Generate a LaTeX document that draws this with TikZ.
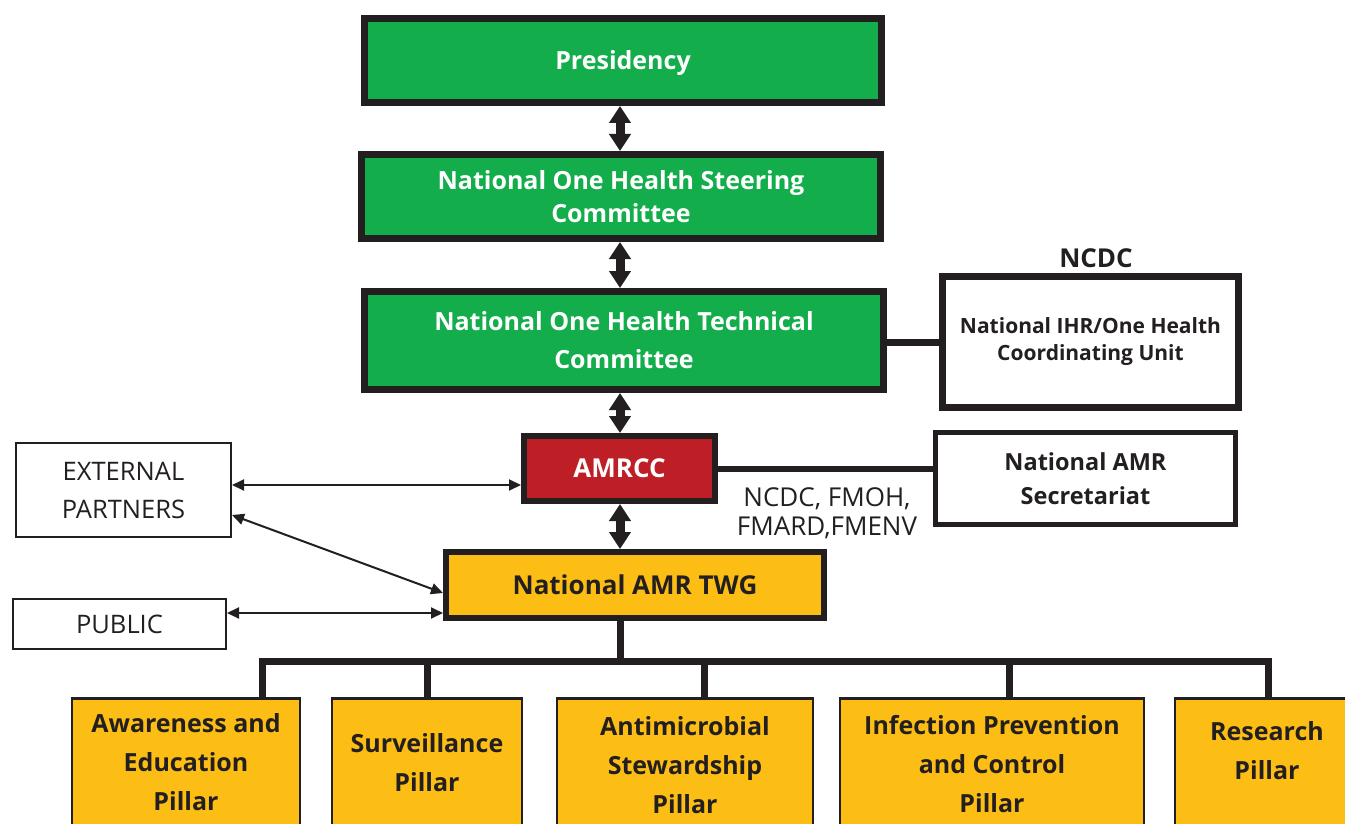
\documentclass[tikz,border=0pt]{standalone}
\usepackage{fontspec}
\setmainfont{Open Sans}
\usetikzlibrary{arrows.meta}
\definecolor{boxgreen}{RGB}{19,174,75}
\definecolor{boxred}{RGB}{190,30,38}
\definecolor{boxyellow}{RGB}{252,190,20}
\definecolor{boxblack}{RGB}{35,31,32}

\begin{document}
\begin{tikzpicture}
        [x=1pt,y=-1pt,
        greendecorate/.style={shape=rectangle,draw=boxblack,line width=7pt,fill=boxgreen,text=white,align=center,font=\bfseries\fontsize{25}{33}\selectfont},
        nodepth/.style={text depth=0pt},
        keepdepth/.style={},
        reddecorate/.style={shape=rectangle,draw=boxblack,line width=6pt,fill=boxred,text=white,font=\bfseries\fontsize{26}{30}\selectfont},
        yellowdecorate/.style={shape=rectangle,draw=boxblack,line width=6pt,fill=boxyellow,text=boxblack,font=\bfseries\fontsize{26}{30}\selectfont},
        whitedecorate/.style={shape=rectangle,draw=boxblack,fill=white,text=boxblack,align=center},
        plaindecorate/.style={shape=rectangle,draw=boxblack,line width=2pt,align=center,text=boxblack,font=\fontsize{25.5}{38}\selectfont},
        pillardecorate/.style={shape=rectangle,anchor=north,draw=boxblack,line width=2.5pt,fill=boxyellow,minimum height=160},
        pillartext/.style={align=center,text=boxblack,font=\bfseries\fontsize{25}{39}\selectfont},
        linedecorate/.style={draw=boxblack,line width=7pt},
        bigarrowdecorate/.style={<->,>={Triangle[width=21pt,length=17pt]},draw=boxblack,line width=9pt},
        arrowdecorate/.style={<->,>={Triangle[width=11pt,length=12pt]},draw=boxblack,line width=2pt}]
        \useasboundingbox (0,0) rectangle (1345,824);
        \clip (0,0) rectangle (1345,824);
        %% nodes or vertices

        \foreach \nodename/\x/\y/\w/\h/\extra/\nodetext in {pres/623/60.5/517/84/nodepth/Presidency,
          steer/621/196.5/519/84/keepdepth/{National One Health Steering\\Committee},
          tech/624/340.5/519/98/keepdepth/{National One Health Technical\\[5pt]Committee}}
        {
          \node (\nodename) at (\x,\y) [greendecorate,minimum width=\w,minimum height=\h,\extra] {\nodetext};
        }
        \node (amrcc) at (619.5,468.5) [reddecorate,minimum width=191,minimum height=65] {AMRCC};
        \node (twg) at (635,585) [yellowdecorate,minimum width=378,minimum height=66] {National AMR TWG};
        \node (ncdc) at (1096,258) [text=boxblack,font=\bfseries\fontsize{26}{30}\selectfont] {NCDC};
        \node (ihr) at (1090.5,342) [whitedecorate,line width=7pt,minimum width=296,minimum height=131,
          font=\bfseries\fontsize{21}{27}\selectfont] {National IHR/One Health\\Coordinating Unit};
        \node (sec) at (1085.5,478.5) [whitedecorate,line width=5pt,minimum width=300,minimum height=92,
          font=\bfseries\fontsize{23.5}{34}\selectfont] {National AMR\\Secretariat};
        \node (members) at (827,513) [align=center,text=boxblack,font=\fontsize{26}{29}\selectfont] {NCDC, FMOH,\\FMARD,FMENV};
        \node (ext) at (123.5,490) [plaindecorate,minimum width=215,minimum height=94] {EXTERNAL\\PARTNERS};
        \node (pub) at (119.5,624) [plaindecorate,minimum width=213,minimum height=50] {PUBLIC};
        \coordinate (bus) at (620,661);

        %% pillars
        \foreach \nodename/\x/\w/\ty/\dx/\nodetext in {
          p1/186/228/762/76/{Awareness and\\Education\\Pillar},
          p2/427/190/762.5/0/{Surveillance\\Pillar},
          p3/685/256/765/19/{Antimicrobial\\Stewardship\\Pillar},
          p4/992/304/764/17/{Infection Prevention\\and Control\\Pillar},
          p5/1267/184/750.5/1/{Research\\Pillar}}
        {
          \node (\nodename) at (\x,697) [pillardecorate,minimum width=\w] {};
          \node (\nodename-text) at (\x,\ty) [pillartext] {\nodetext};
          \draw[linedecorate] ([xshift=\dx pt]\nodename.north) -- ([xshift=\dx pt]\nodename.north |- bus);
        }

        %% edges or lines
        \draw[linedecorate] ([xshift=76pt]p1.north) |- (bus) -| ([xshift=1pt]p5.north);
        \draw[linedecorate] (twg.south -| bus) -- (bus);
        \draw[linedecorate] (tech.east |- ihr) -- (ihr.west);
        \draw[linedecorate,line width=6pt] (amrcc.east) -- (amrcc.east -| sec.west);
        \path
        \foreach \startnode/\endnode in {pres/steer, steer/tech, tech/amrcc, amrcc/twg}
        {
          (\startnode.south -| bus) edge[bigarrowdecorate] (\endnode.north -| bus)
        };
        \draw[arrowdecorate] ([yshift=5pt]ext.east) -- ([yshift=5pt]ext.east -| amrcc.west);
        \draw[arrowdecorate] ([yshift=-25pt]ext.east) -- ([yshift=-8pt]twg.west);
        \draw[arrowdecorate] ([yshift=11pt]pub.east) -- ([yshift=11pt]pub.east -| twg.west);
      \end{tikzpicture}
\end{document}
